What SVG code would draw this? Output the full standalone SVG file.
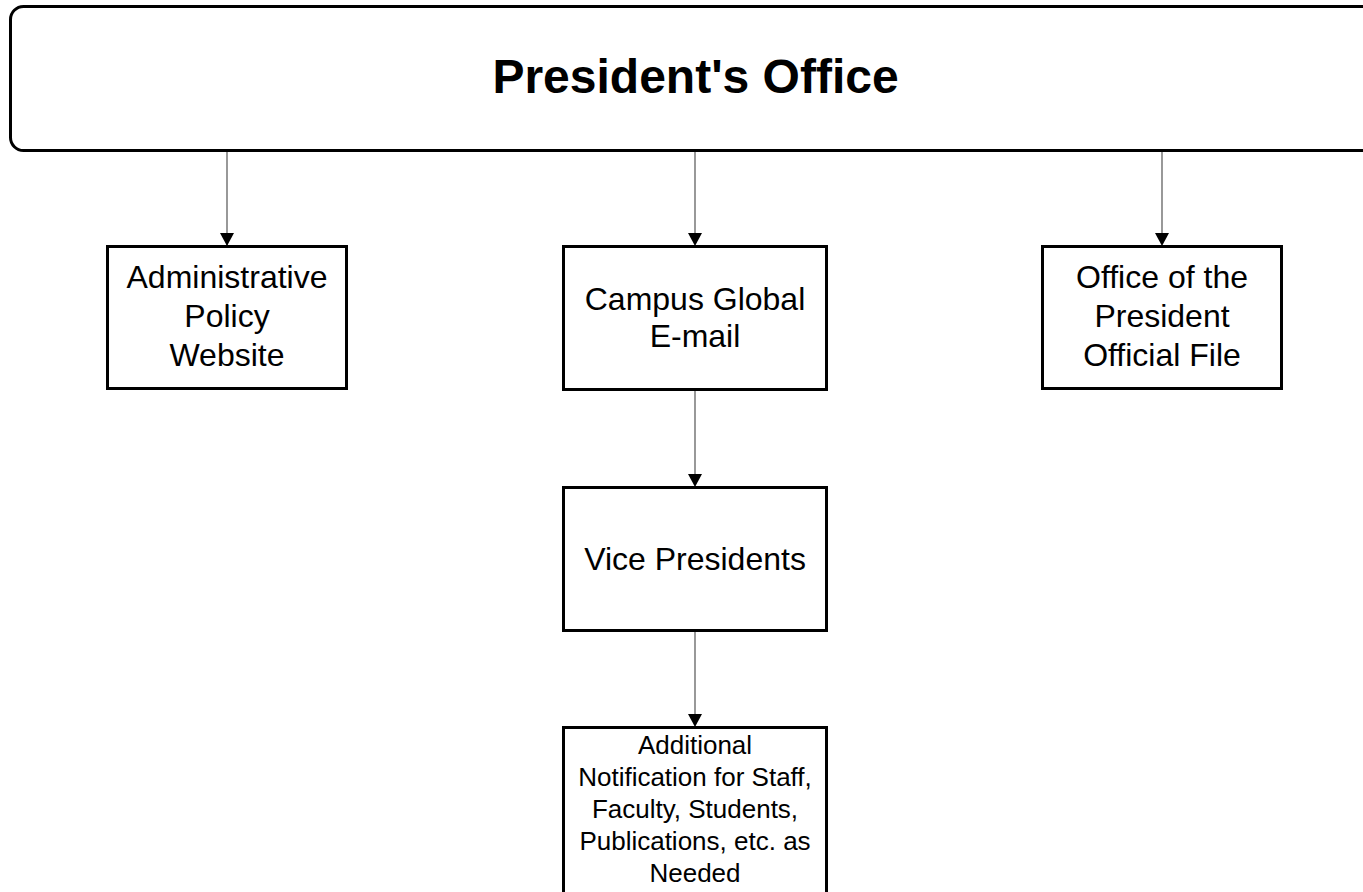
<svg xmlns="http://www.w3.org/2000/svg" width="1363" height="892" viewBox="0 0 1363 892">
<style>
.box{fill:#fff;stroke:#000;stroke-width:3}
.lbl{font-family:"Liberation Sans",Arial,sans-serif;font-size:32px;fill:#000;text-anchor:middle}
.small{font-size:26px}
.title{font-family:"Liberation Sans",Arial,sans-serif;font-size:48px;font-weight:bold;fill:#000;text-anchor:middle}
.conn{stroke:#7f7f7f;stroke-width:1.6;fill:none;marker-end:url(#arr)}
</style>
<defs>
<marker id="arr" markerUnits="userSpaceOnUse" markerWidth="16" markerHeight="14" refX="7" refY="13" orient="auto-start-reverse" viewBox="0 0 14 13">
<path d="M0,0 L14,0 L7,13 Z" fill="#000"/>
</marker>
</defs>
<rect width="1363" height="892" fill="#fff"/>
<g id="connectors">
<line class="conn" x1="227" y1="151" x2="227" y2="246" style="marker-end:none"/>
<path d="M220,233 L234,233 L227,246 Z" fill="#000"/>
<line class="conn" x1="695" y1="151" x2="695" y2="233" style="marker-end:none"/>
<path d="M688,233 L702,233 L695,246 Z" fill="#000"/>
<line class="conn" x1="1162" y1="151" x2="1162" y2="233" style="marker-end:none"/>
<path d="M1155,233 L1169,233 L1162,246 Z" fill="#000"/>
<line class="conn" x1="695" y1="390" x2="695" y2="474" style="marker-end:none"/>
<path d="M688,474 L702,474 L695,487 Z" fill="#000"/>
<line class="conn" x1="695" y1="631" x2="695" y2="714" style="marker-end:none"/>
<path d="M688,714 L702,714 L695,727 Z" fill="#000"/>
</g>
<g id="president-office">
<rect class="box" x="10.5" y="6.5" width="1400" height="144" rx="13" ry="13"/>
<text class="title" x="695.5" y="93">President's Office</text>
</g>
<g id="admin-policy">
<rect class="box" x="107.5" y="246.5" width="239" height="142"/>
<text class="lbl" x="227" y="288">Administrative</text>
<text class="lbl" x="227" y="327">Policy</text>
<text class="lbl" x="227" y="366">Website</text>
</g>
<g id="campus-email">
<rect class="box" x="563.5" y="246.5" width="263" height="143"/>
<text class="lbl" x="695" y="310">Campus Global</text>
<text class="lbl" x="695" y="347">E-mail</text>
</g>
<g id="official-file">
<rect class="box" x="1042.5" y="246.5" width="239" height="142"/>
<text class="lbl" x="1162" y="288">Office of the</text>
<text class="lbl" x="1162" y="327">President</text>
<text class="lbl" x="1162" y="366">Official File</text>
</g>
<g id="vice-presidents">
<rect class="box" x="563.5" y="487.5" width="263" height="143"/>
<text class="lbl" x="695" y="570">Vice Presidents</text>
</g>
<g id="additional-notification">
<rect class="box" x="563.5" y="727.5" width="263" height="200"/>
<text class="lbl small" x="695" y="754">Additional</text>
<text class="lbl small" x="695" y="786">Notification for Staff,</text>
<text class="lbl small" x="695" y="818">Faculty, Students,</text>
<text class="lbl small" x="695" y="850">Publications, etc. as</text>
<text class="lbl small" x="695" y="882">Needed</text>
</g>
</svg>
